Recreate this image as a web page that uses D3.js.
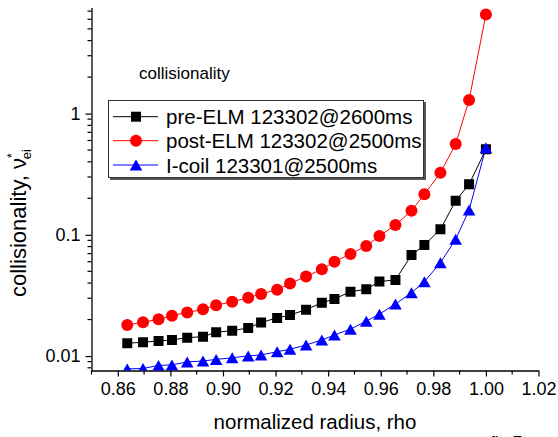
<!DOCTYPE html>
<html>
<head>
<meta charset="utf-8">
<script src="https://cdn.jsdelivr.net/npm/d3@7"></script>
<style>
  body { margin: 0; background: #fff; }
  svg { display: block; font-family: "Liberation Sans", Arial, sans-serif; }
</style>
</head>
<body>
<svg id="chart" width="558" height="437"></svg>
<script>
// normalized radius (shared by all series)
const rho = [0.8636, 0.8696, 0.8755, 0.8806, 0.8864, 0.8924, 0.8974, 0.9035, 0.9096, 0.9145,
             0.9206, 0.9255, 0.9316, 0.9376, 0.9424, 0.9485, 0.9545, 0.9595, 0.9656, 0.9717,
             0.9766, 0.9827, 0.9885, 0.9936, 1.0];

const preELM = [0.01275, 0.0130, 0.01332, 0.01357, 0.01418, 0.01445, 0.01571, 0.0162, 0.01705, 0.01892,
                0.02062, 0.02182, 0.02412, 0.02756, 0.02956, 0.03396, 0.03553, 0.04121, 0.0424, 0.06816,
                0.08236, 0.111, 0.191, 0.2608, 0.5069];

const postELM = [0.01805, 0.0190, 0.02011, 0.02153, 0.02288, 0.0243, 0.02623, 0.02809, 0.03031, 0.03251,
                 0.03527, 0.03968, 0.04532, 0.05195, 0.06001, 0.06946, 0.08085, 0.09775, 0.1204, 0.158,
                 0.2157, 0.325, 0.5605, 1.292, 6.575];

const iCoil = [0.00783, 0.0079, 0.00837, 0.00845, 0.00894, 0.00911, 0.00938, 0.00968, 0.01002, 0.01021,
               0.01087, 0.01138, 0.01234, 0.01357, 0.01492, 0.01667, 0.0194, 0.02215, 0.02689, 0.03331,
               0.04105, 0.05888, 0.09182, 0.1602, 0.5224];

const seriesNames = ["pre-ELM 123302@2600ms", "post-ELM 123302@2500ms", "I-coil 123301@2500ms"];
const xTickValues = [0.86, 0.88, 0.90, 0.92, 0.94, 0.96, 0.98, 1.00, 1.02];
const yTickValues = [0.01, 0.1, 1];

const series = [
  { name: seriesNames[0], values: preELM, color: "#000000", marker: "square" },
  { name: seriesNames[1], values: postELM, color: "#ff0000", marker: "circle" },
  { name: seriesNames[2], values: iCoil, color: "#0000ff", marker: "triangle" },
];

const svg = d3.select("#chart");
const plot = { left: 91.5, right: 538.5, top: 7.5, bottom: 370.5 };

const x = d3.scaleLinear().domain([0.85, 1.02]).range([plot.left, plot.right]);
const y = d3.scaleLog().domain([0.0076, 7.5]).range([plot.bottom, plot.top]);

svg.append("defs").append("clipPath").attr("id", "clip")
  .append("rect")
  .attr("x", plot.left).attr("y", plot.top)
  .attr("width", plot.right - plot.left).attr("height", plot.bottom - plot.top);

// x axis
const minorX = d3.range(0.85, 1.0201, 0.01).map((d) => +d.toFixed(2))
  .filter((d) => !xTickValues.some((t) => Math.abs(t - d) < 1e-6));

const xAxis = svg.append("g")
  .attr("transform", `translate(0,${plot.bottom})`)
  .call(d3.axisBottom(x).tickValues(xTickValues).tickFormat(d3.format(".2f"))
    .tickSize(6).tickSizeOuter(0).tickPadding(6));
xAxis.select(".domain").attr("stroke", "#000").attr("stroke-width", 1.3);
xAxis.selectAll(".tick line").attr("stroke-width", 1.2);
xAxis.selectAll("text").attr("font-size", 18).attr("fill", "#000")
  .attr("font-family", "Liberation Sans, Arial, sans-serif");
svg.append("g").attr("transform", `translate(0,${plot.bottom})`)
  .selectAll("line").data(minorX).enter().append("line")
  .attr("x1", (d) => x(d)).attr("x2", (d) => x(d))
  .attr("y1", 0).attr("y2", 4)
  .attr("stroke", "#000").attr("stroke-width", 1.2);

// y axis
const minorY = [];
[0.001, 0.01, 0.1, 1].forEach((dec) => {
  for (let k = 2; k <= 9; k++) {
    const v = dec * k;
    if (v >= 0.0076 && v <= 7.5) minorY.push(v);
  }
});

const yAxis = svg.append("g")
  .attr("transform", `translate(${plot.left},0)`)
  .call(d3.axisLeft(y).tickValues(yTickValues).tickFormat((d) => String(d))
    .tickSize(6).tickSizeOuter(0).tickPadding(5));
yAxis.select(".domain").attr("stroke", "#000").attr("stroke-width", 1.3);
yAxis.selectAll(".tick line").attr("stroke-width", 1.2);
yAxis.selectAll("text").attr("font-size", 18).attr("fill", "#000")
  .attr("font-family", "Liberation Sans, Arial, sans-serif");
svg.append("g").attr("transform", `translate(${plot.left},0)`)
  .selectAll("line").data(minorY).enter().append("line")
  .attr("x1", -4).attr("x2", 0)
  .attr("y1", (d) => y(d)).attr("y2", (d) => y(d))
  .attr("stroke", "#000").attr("stroke-width", 1.2);

// markers
const markerPath = (type) => {
  if (type === "square") return "M-5,-5H5V5H-5Z";
  if (type === "triangle") return "M0,-5.5L6.3,5.5L-6.3,5.5Z";
  return d3.symbol(d3.symbolCircle, Math.PI * 6 * 6)();
};

const dataG = svg.append("g").attr("clip-path", "url(#clip)");
const line = d3.line().x((d) => x(d[0])).y((d) => y(d[1]));

series.forEach((s) => {
  const pts = rho.map((r, i) => [r, s.values[i]]);
  const g = dataG.append("g");
  g.append("path").datum(pts)
    .attr("d", line).attr("fill", "none")
    .attr("stroke", s.color).attr("stroke-width", 1);
  g.selectAll("path.pt").data(pts).enter().append("path")
    .attr("class", "pt")
    .attr("d", markerPath(s.marker))
    .attr("transform", (d) => `translate(${x(d[0])},${y(d[1])})`)
    .attr("fill", s.color);
});

// inner label
svg.append("text").attr("x", 139).attr("y", 79)
  .attr("font-size", 17).text("collisionality");

// legend
const legend = svg.append("g").attr("class", "legend");
legend.append("rect").attr("x", 110).attr("y", 102).attr("width", 316).attr("height", 78)
  .attr("fill", "#555");
legend.append("rect").attr("x", 108.5).attr("y", 100.5).attr("width", 315).attr("height", 77)
  .attr("fill", "#fff").attr("stroke", "#333").attr("stroke-width", 1);

const rows = legend.selectAll("g.legend-row").data(series).enter().append("g")
  .attr("class", "legend-row")
  .attr("transform", (_, i) => `translate(0,${[116.7, 140.7, 165][i]})`);
rows.append("line").attr("x1", 113).attr("x2", 158).attr("y1", 0).attr("y2", 0)
  .attr("stroke", (d) => d.color).attr("stroke-width", 1);
rows.append("path").attr("d", (d) => markerPath(d.marker))
  .attr("transform", "translate(136,0)").attr("fill", (d) => d.color);
rows.append("text").attr("x", 166).attr("y", 7.5).attr("font-size", 20.5)
  .text((d) => d.name);

// axis titles
svg.append("text").attr("x", 315).attr("y", 429).attr("text-anchor", "middle")
  .attr("font-size", 20.5).text("normalized radius, rho");

const yTitle = svg.append("text")
  .attr("transform", "translate(26,297) rotate(-90)")
  .attr("font-size", 22);
yTitle.append("tspan").text("collisionality, ν");
yTitle.append("tspan").attr("dy", -10).attr("font-size", 12).text("*");
yTitle.append("tspan").attr("dx", -6).attr("dy", 15).attr("font-size", 13).text("ei");

// cut-off figure note at bottom edge
svg.append("text").attr("x", 490).attr("y", 448).attr("font-size", 17).text("fig 7");
</script>
</body>
</html>
